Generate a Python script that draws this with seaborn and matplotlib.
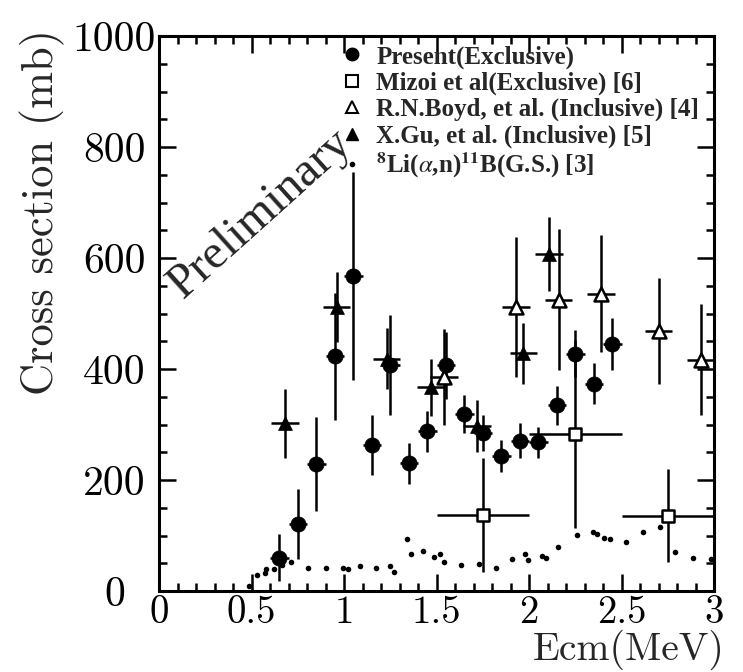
import numpy as np
import pandas as pd
import matplotlib
matplotlib.use("Agg")
import matplotlib.pyplot as plt
import seaborn as sns
from matplotlib.ticker import MultipleLocator
from matplotlib.lines import Line2D

# ---------------- data ----------------
present_x = [0.65, 0.75, 0.85, 0.95, 1.05, 1.15, 1.25, 1.35, 1.45, 1.55,
             1.65, 1.75, 1.85, 1.95, 2.05, 2.15, 2.25, 2.35, 2.45]
present_y = [60, 121, 229, 423, 568, 263, 407, 230, 288, 407,
             319, 285, 244, 271, 268, 335, 428, 374, 446]
present_yerr = [42, 63, 84, 115, 187, 54, 90, 37, 37, 60,
                35, 32, 29, 32, 28, 35, 42, 37, 47]
present_xerr = 0.05

mizoi_x = [1.75, 2.25, 2.75]
mizoi_y = [137, 283, 136]
mizoi_yerr = [103, 170, 84]
mizoi_xerr = [0.25, 0.25, 0.25]

boyd_x = [1.54, 1.93, 2.16, 2.39, 2.70, 2.93]
boyd_y = [386, 512, 525, 536, 469, 417]
boyd_yerr = [86, 127, 127, 106, 96, 100]
boyd_xerr = 0.075

gu_x = [0.68, 0.96, 1.23, 1.47, 1.72, 1.97, 2.11]
gu_y = [302, 512, 419, 367, 297, 429, 607]
gu_yerr = [63, 63, 55, 51, 47, 55, 67]
gu_xerr = 0.075

gs_x = [0.486, 0.532, 0.573, 0.578, 0.622, 0.663, 0.712, 0.805, 0.901, 0.993,
        1.023, 1.086, 1.173, 1.249, 1.270, 1.339, 1.362, 1.425, 1.488, 1.519,
        1.542, 1.632, 1.730, 1.822, 1.910, 1.980, 1.996, 2.070, 2.092, 2.159,
        2.258, 2.344, 2.366, 2.407, 2.438, 2.524, 2.616, 2.708, 2.791, 2.888,
        2.982]
gs_y = [9, 29, 32, 39, 39, 47, 53, 41, 42, 41,
        40, 45, 42, 45, 35, 94, 66, 73, 62, 67,
        52, 47, 49, 41, 57, 66, 56, 64, 59, 80,
        101, 106, 103, 95, 93, 88, 106, 115, 71, 59,
        58]

labels = ["Present(Exclusive)",
          "Mizoi et al(Exclusive) [6]",
          "R.N.Boyd, et al. (Inclusive) [4]",
          "X.Gu, et al. (Inclusive) [5]",
          "$^{\\mathbf{8}}$Li($\\alpha$,n)$^{\\mathbf{11}}$B(G.S.) [3]"]

xtick_vals = [0, 0.5, 1, 1.5, 2, 2.5, 3]
xtick_labels = ["0", "0.5", "1", "1.5", "2", "2.5", "3"]

# ---------------- style ----------------
sns.set_theme(style="ticks")
plt.rcParams["font.family"] = ["Liberation Serif", "DejaVu Serif"]
plt.rcParams["mathtext.fontset"] = "stix"
plt.rcParams["axes.linewidth"] = 2.0

fig = plt.figure(figsize=(7.43, 6.72), dpi=100)
ax = fig.add_axes([0.214, 0.1205, 0.747, 0.8255])

lw = 1.8
ebkw = dict(fmt="none", ecolor="black", elinewidth=lw, capsize=0, zorder=2)

ax.errorbar(present_x, present_y, yerr=present_yerr, xerr=present_xerr, **ebkw)
ax.errorbar(mizoi_x, mizoi_y, yerr=mizoi_yerr, xerr=mizoi_xerr, **ebkw)
ax.errorbar(boyd_x, boyd_y, yerr=boyd_yerr, xerr=boyd_xerr, **ebkw)
ax.errorbar(gu_x, gu_y, yerr=gu_yerr, xerr=gu_xerr, **ebkw)

sns.scatterplot(x=present_x, y=present_y, ax=ax, marker="o", s=120,
                color="black", edgecolor="black", linewidth=0.5, zorder=3)
sns.scatterplot(x=mizoi_x, y=mizoi_y, ax=ax, marker="s", s=85,
                facecolor="white", edgecolor="black", linewidth=1.8, zorder=3)
sns.scatterplot(x=boyd_x, y=boyd_y, ax=ax, marker="^", s=100,
                facecolor="white", edgecolor="black", linewidth=1.8, zorder=3)
sns.scatterplot(x=gu_x, y=gu_y, ax=ax, marker="^", s=100,
                color="black", edgecolor="black", linewidth=0.5, zorder=3)
sns.scatterplot(x=gs_x, y=gs_y, ax=ax, marker="o", s=16,
                color="black", edgecolor="black", linewidth=0, zorder=3)

ax.set_xlim(0, 3)
ax.set_ylim(0, 1000)
ax.xaxis.set_major_locator(MultipleLocator(0.5))
ax.xaxis.set_minor_locator(MultipleLocator(0.1))
ax.yaxis.set_major_locator(MultipleLocator(200))
ax.yaxis.set_minor_locator(MultipleLocator(50))
ax.tick_params(which="both", direction="in", top=True, right=True,
               width=1.8, colors="black")
ax.tick_params(which="major", length=12)
ax.tick_params(which="minor", length=6)
ax.tick_params(axis="x", which="major", labelsize=28, pad=3)
ax.tick_params(axis="y", which="major", labelsize=30, pad=32)
ax.set_xticks(xtick_vals)
ax.set_xticklabels(xtick_labels)
for lab in ax.get_xticklabels() + ax.get_yticklabels():
    lab.set_fontfamily("cmr10")
for lab in ax.get_yticklabels():
    lab.set_horizontalalignment("center")
for sp in ax.spines.values():
    sp.set_color("black")
    sp.set_linewidth(2.2)

ax.set_xlabel("")
ax.set_ylabel("")
fig.text(0.976, 0.018, "Ecm(MeV)", ha="right", va="baseline",
         fontsize=28.5, family="cmr10")
fig.text(0.057, 0.684, "Cross section (mb)", ha="center", va="center",
         rotation=90, fontsize=32, family="cmr10")

ax.text(0.55, 680, "Preliminary", rotation=42, ha="center", va="center",
        fontsize=35, family="Liberation Serif", zorder=4)

handles = [
    Line2D([], [], ls="none", marker="o", ms=9, color="black"),
    Line2D([], [], ls="none", marker="s", ms=8, mfc="white", mec="black", mew=1.5),
    Line2D([], [], ls="none", marker="^", ms=8, mfc="white", mec="black", mew=1.5),
    Line2D([], [], ls="none", marker="^", ms=9, color="black"),
    Line2D([], [], ls="none", marker="o", ms=3, color="black"),
]
leg = ax.legend(handles, labels, loc="upper left", bbox_to_anchor=(0.326, 0.984),
                frameon=False, handlelength=1.0, handletextpad=0.45,
                labelspacing=0.12, borderpad=0.0, borderaxespad=0.0,
                prop={"family": "Liberation Serif", "weight": "bold", "size": 18})

fig.savefig("out.png", dpi=100)
